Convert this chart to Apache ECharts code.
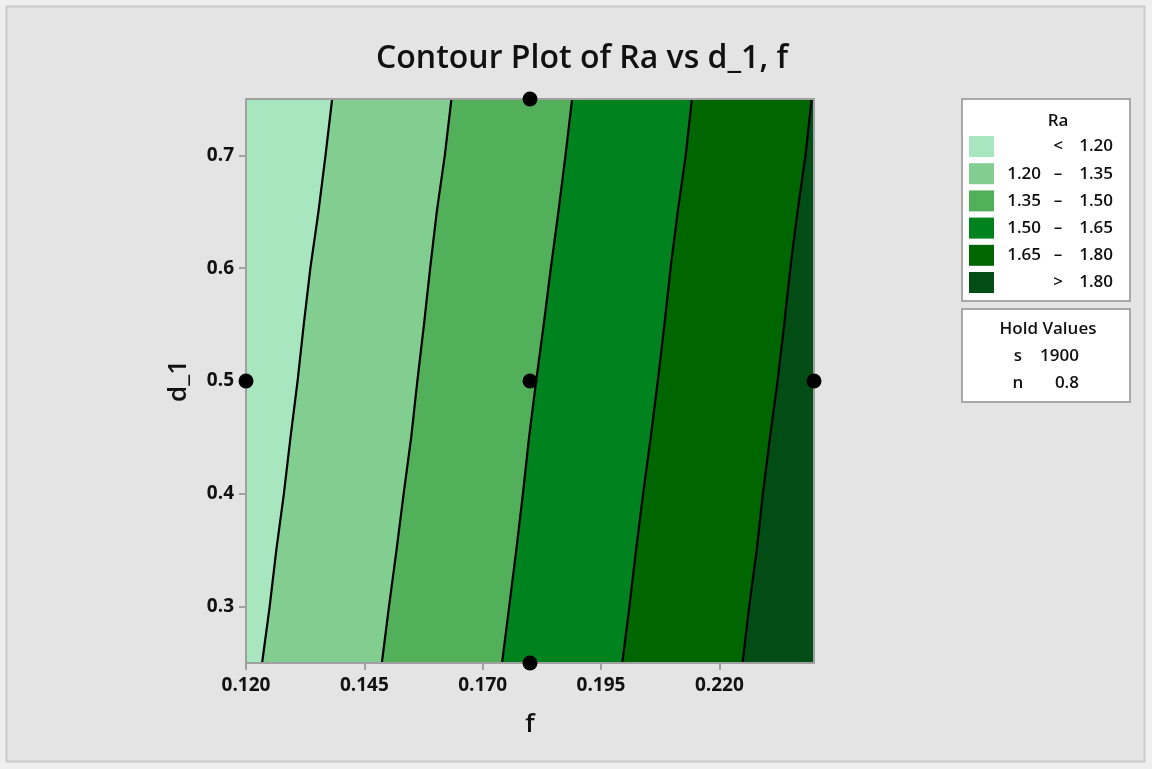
<!DOCTYPE html>
<html>
<head>
<meta charset="utf-8">
<script src="https://cdn.jsdelivr.net/npm/echarts@6/dist/echarts.min.js"></script>
<style>
  html, body { margin: 0; padding: 0; background: #efefef; }
  #chart { width: 1152px; height: 769px; }
</style>
</head>
<body>
<div id="chart"></div>
<script>
// Contour levels of Ra and the fill colour of each band (lowest band first)
const levels = [1.20, 1.35, 1.50, 1.65, 1.80];
const bandColors = ['#a8e6bf', '#82ce91', '#52b05a', '#00821f', '#006700', '#024d16'];

// d_1 positions at which each contour line is sampled (top to bottom)
const dValues = [0.75, 0.70, 0.65, 0.60, 0.55, 0.50, 0.45, 0.40, 0.35, 0.30, 0.25];

// f position of each contour line at the d_1 values above
const contour120 = [0.1382, 0.1368, 0.1353, 0.1336, 0.1322, 0.1309, 0.1294, 0.1280, 0.1264, 0.1250, 0.1234];
const contour135 = [0.1634, 0.1620, 0.1603, 0.1589, 0.1576, 0.1562, 0.1549, 0.1533, 0.1518, 0.1502, 0.1487];
const contour150 = [0.1889, 0.1875, 0.1860, 0.1844, 0.1829, 0.1813, 0.1798, 0.1785, 0.1771, 0.1756, 0.1741];
const contour165 = [0.2142, 0.2129, 0.2112, 0.2097, 0.2084, 0.2070, 0.2055, 0.2039, 0.2024, 0.2010, 0.1995];
const contour180 = [0.2395, 0.2382, 0.2365, 0.2350, 0.2337, 0.2323, 0.2307, 0.2292, 0.2279, 0.2263, 0.2249];
const contourLines = [contour120, contour135, contour150, contour165, contour180];

// Axis ranges and tick labels
const fRange = [0.12, 0.24];
const dRange = [0.25, 0.75];
const fTicks = [0.120, 0.145, 0.170, 0.195, 0.220];
const dTicks = [0.3, 0.4, 0.5, 0.6, 0.7];

// Design points
const designF = [0.12, 0.18, 0.18, 0.18, 0.24];
const designD = [0.50, 0.75, 0.50, 0.25, 0.50];

// Hold values
const holdNames = ['s', 'n'];
const holdValues = ['1900', '0.8'];

const FONT = '"Open Sans", "Noto Sans", sans-serif';
const TEXT = '#111111';

function bandEdge(i) {
  // edge i: 0 = left plot edge, 1..5 = contour lines, 6 = right plot edge
  if (i === 0) return dValues.map(d => [fRange[0], d]);
  if (i === levels.length + 1) return dValues.map(d => [fRange[1], d]);
  return dValues.map((d, k) => [contourLines[i - 1][k], d]);
}

const bandSeries = {
  type: 'custom',
  coordinateSystem: 'cartesian2d',
  clip: true,
  silent: true,
  z: 2,
  data: bandColors.map((c, i) => [i]),
  encode: { x: -1, y: -1 },
  renderItem(params, api) {
    const i = params.dataIndex;
    const left = bandEdge(i);
    const right = bandEdge(i + 1).slice().reverse();
    const pts = left.concat(right).map(p => api.coord(p));
    return {
      type: 'polygon',
      shape: { points: pts },
      style: { fill: bandColors[i], stroke: bandColors[i], lineWidth: 0.6 }
    };
  }
};

const lineSeries = contourLines.map(line => ({
  type: 'line',
  data: dValues.map((d, k) => [line[k], d]),
  symbol: 'none',
  silent: true,
  z: 4,
  lineStyle: { color: '#000', width: 2.2, opacity: 1 }
}));

const pointSeries = {
  type: 'scatter',
  data: designF.map((f, i) => [f, designD[i]]),
  symbolSize: 15,
  itemStyle: { color: '#000', opacity: 1 },
  clip: false,
  silent: true,
  z: 10
};

const LEG_FONT = '600 17px ' + FONT;

// Legend: Ra bands
const legendRows = [];
const rowTop = 47.5, rowStep = 27.2;
bandColors.forEach((c, i) => {
  const cy = rowTop + i * rowStep;
  legendRows.push({ type: 'rect', shape: { x: 7, y: cy - 10.5, width: 25, height: 21 }, style: { fill: c } });
  let lo = '', mid = '', hi = '';
  if (i === 0) { mid = '<'; hi = levels[0].toFixed(2); }
  else if (i === levels.length) { mid = '>'; hi = levels[levels.length - 1].toFixed(2); }
  else { lo = levels[i - 1].toFixed(2); mid = '–'; hi = levels[i].toFixed(2); }
  const st = { font: LEG_FONT, fill: TEXT, textVerticalAlign: 'middle' };
  if (lo) legendRows.push({ type: 'text', x: 79, y: cy, style: Object.assign({ text: lo, textAlign: 'right' }, st) });
  legendRows.push({ type: 'text', x: 96, y: cy, style: Object.assign({ text: mid, textAlign: 'center' }, st) });
  legendRows.push({ type: 'text', x: 151, y: cy, style: Object.assign({ text: hi, textAlign: 'right' }, st) });
});

const holdRows = [];
holdNames.forEach((n, i) => {
  const cy = 47 + i * 27.5;
  const st = { font: LEG_FONT, fill: TEXT, textVerticalAlign: 'middle' };
  holdRows.push({ type: 'text', x: 56, y: cy, style: Object.assign({ text: n, textAlign: 'center' }, st) });
  holdRows.push({ type: 'text', x: 117, y: cy, style: Object.assign({ text: holdValues[i], textAlign: 'right' }, st) });
});

const chart = echarts.init(document.getElementById('chart'), null, { renderer: 'canvas' });

chart.setOption({
  animation: false,
  backgroundColor: '#efefef',
  textStyle: { fontFamily: FONT },
  grid: { left: 246, top: 99, width: 568, height: 564, containLabel: false },
  xAxis: [{
    type: 'value',
    min: fRange[0], max: fRange[1],
    name: 'f', nameLocation: 'middle', nameGap: 49,
    nameTextStyle: { fontSize: 26, fontWeight: 600, color: TEXT, fontFamily: FONT },
    z: 5,
    axisLine: { show: true, onZero: false, lineStyle: { color: '#a0a0a0', width: 2 } },
    axisTick: { show: true, length: 7, customValues: fTicks, lineStyle: { color: '#a0a0a0', width: 2 } },
    axisLabel: { customValues: fTicks, margin: 13, fontSize: 19, fontWeight: 'bold', color: TEXT, fontFamily: FONT,
                 formatter: v => v.toFixed(3) },
    splitLine: { show: false }
  }, {
    type: 'value', position: 'top',
    min: fRange[0], max: fRange[1], z: 5,
    axisLine: { show: true, onZero: false, lineStyle: { color: '#a0a0a0', width: 2 } },
    axisTick: { show: false }, axisLabel: { show: false }, splitLine: { show: false }
  }],
  yAxis: [{
    type: 'value',
    min: dRange[0], max: dRange[1],
    name: 'd_1', nameLocation: 'middle', nameGap: 54, nameRotate: 90,
    nameTextStyle: { fontSize: 26, fontWeight: 600, color: TEXT, fontFamily: FONT },
    z: 5,
    axisLine: { show: true, onZero: false, lineStyle: { color: '#a0a0a0', width: 2 } },
    axisTick: { show: true, length: 7, customValues: dTicks, lineStyle: { color: '#a0a0a0', width: 2 } },
    axisLabel: { customValues: dTicks, margin: 12, fontSize: 19, fontWeight: 'bold', color: TEXT, fontFamily: FONT,
                 formatter: v => v.toFixed(1) },
    splitLine: { show: false }
  }, {
    type: 'value', position: 'right',
    min: dRange[0], max: dRange[1], z: 5,
    axisLine: { show: true, onZero: false, lineStyle: { color: '#a0a0a0', width: 2 } },
    axisTick: { show: false }, axisLabel: { show: false }, splitLine: { show: false }
  }],
  series: [bandSeries].concat(lineSeries, [pointSeries]),
  graphic: [
    {
      type: 'rect', z: -10, silent: true,
      shape: { x: 6.5, y: 6.5, width: 1138, height: 755 },
      style: { fill: '#e4e4e4', stroke: '#cbcbcb', lineWidth: 2 }
    },
    {
      type: 'text', x: 582, y: 59, silent: true,
      style: { text: 'Contour Plot of Ra vs d_1, f', font: '600 32px ' + FONT, fill: TEXT,
               textAlign: 'center', textVerticalAlign: 'middle' }
    },
    {
      type: 'group', x: 962, y: 99, silent: true,
      children: [
        { type: 'rect', shape: { x: 0, y: 0, width: 168, height: 202 },
          style: { fill: '#ffffff', stroke: '#a8a8a8', lineWidth: 2 } },
        { type: 'text', x: 96, y: 22,
          style: { text: 'Ra', font: LEG_FONT, fill: TEXT, textAlign: 'center', textVerticalAlign: 'middle' } }
      ].concat(legendRows)
    },
    {
      type: 'group', x: 962, y: 309, silent: true,
      children: [
        { type: 'rect', shape: { x: 0, y: 0, width: 168, height: 93 },
          style: { fill: '#ffffff', stroke: '#a8a8a8', lineWidth: 2 } },
        { type: 'text', x: 86, y: 20,
          style: { text: 'Hold Values', font: LEG_FONT, fill: TEXT, textAlign: 'center', textVerticalAlign: 'middle' } }
      ].concat(holdRows)
    }
  ]
});
</script>
</body>
</html>
